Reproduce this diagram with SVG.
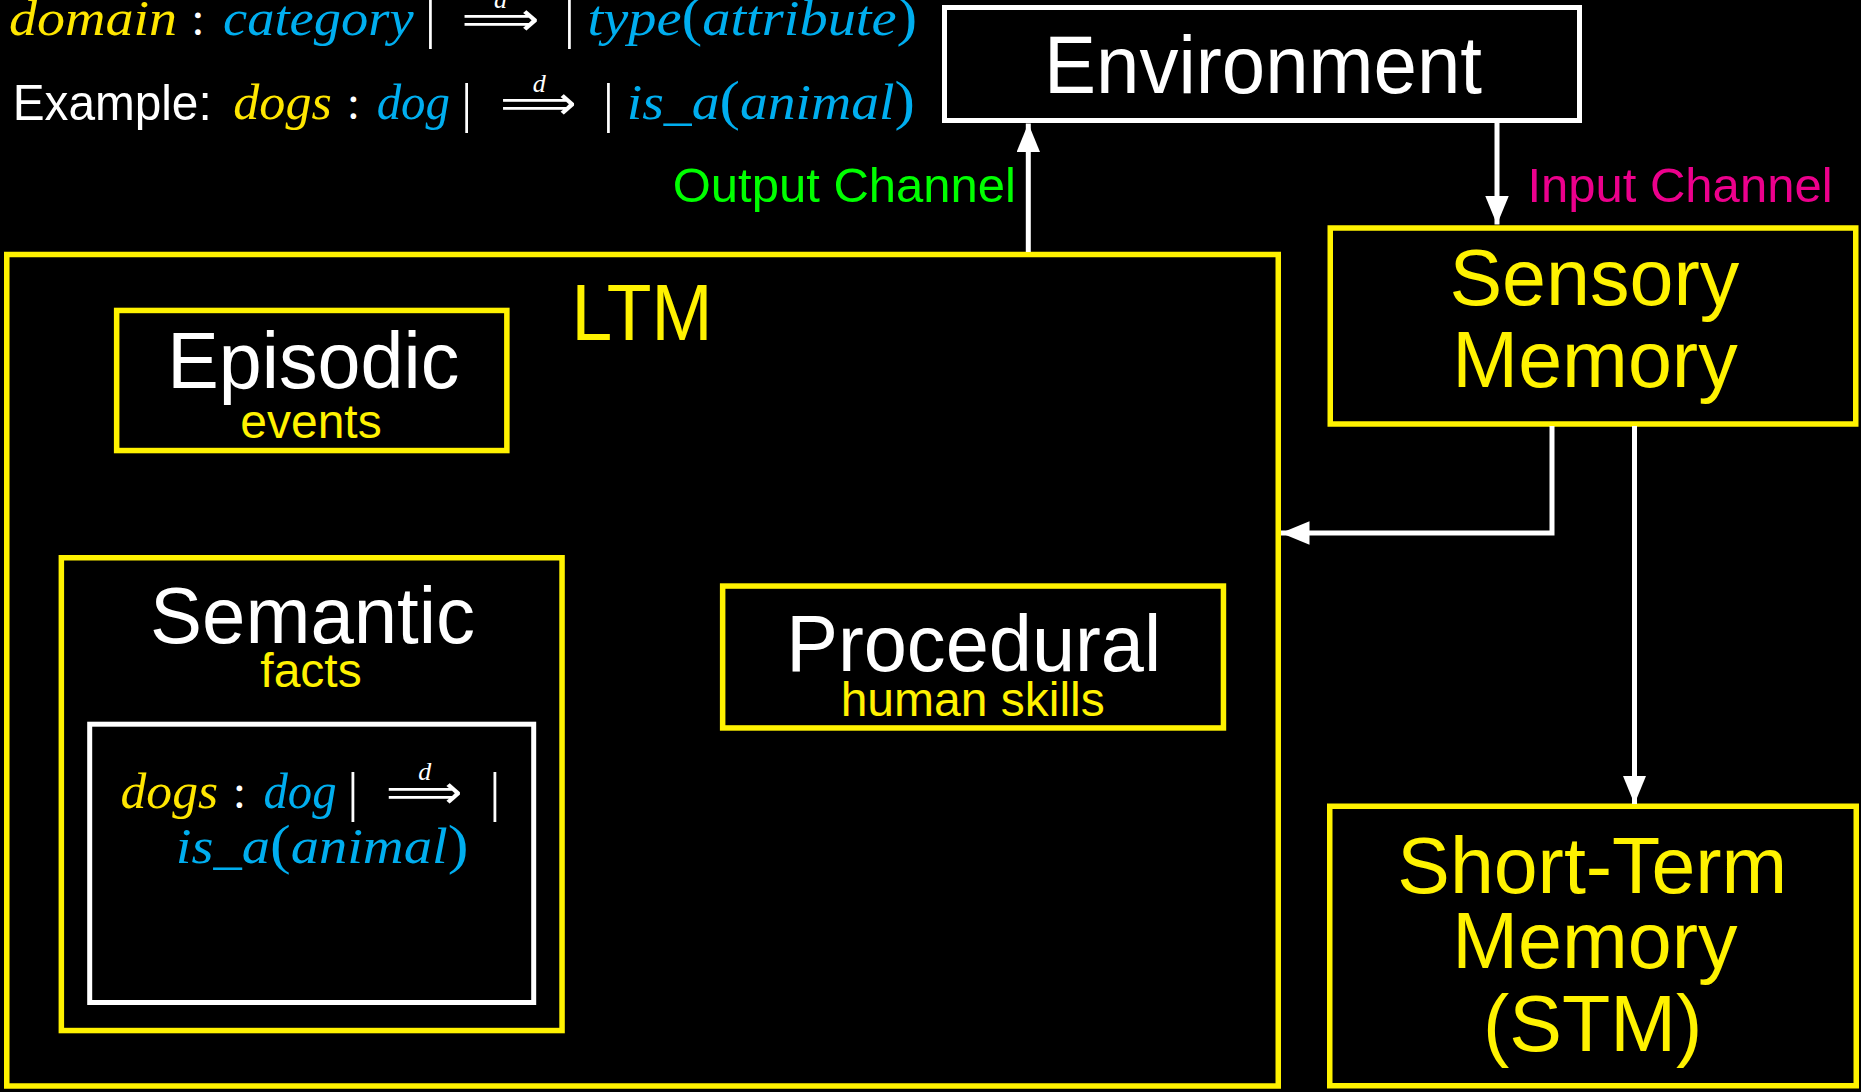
<svg xmlns="http://www.w3.org/2000/svg" width="1861" height="1092" viewBox="0 0 1861 1092">
<defs>
<style>
.by{fill:#000;stroke:#FFF200;stroke-width:5.5}
.bw{fill:#000;stroke:#fff;stroke-width:5}
.lbl{font-family:"Liberation Sans",Arial,sans-serif}
.big{font-size:79px;text-anchor:middle}
.sub{font-size:48px;text-anchor:middle;fill:#FFF200}
.m{font-family:"Liberation Serif","Times New Roman",serif;font-style:italic;font-size:50px}
.up{font-family:"Liberation Serif","Times New Roman",serif;font-style:normal;font-size:55px}
.bar{font-family:"Liberation Serif",serif;font-size:54px;fill:#fff;text-anchor:middle}
.col{font-family:"Liberation Serif",serif;font-size:48px;fill:#fff;text-anchor:middle}
.arr{font-family:"DejaVu Sans",sans-serif;font-size:47px;fill:#fff}
.sd{font-family:"Liberation Serif",serif;font-style:italic;font-size:26px;fill:#fff;text-anchor:middle}
.yel{fill:#FFE600}
.cy{fill:#00AEEF}
.conn{stroke:#fff;stroke-width:5;fill:none;stroke-linejoin:miter}
</style>
<marker id="ah" viewBox="0 0 28.5 23.5" refX="28.5" refY="11.75" markerWidth="28.5" markerHeight="23.5" markerUnits="userSpaceOnUse" orient="auto">
<path d="M0,0 L28.5,11.75 L0,23.5 Z" fill="#fff"/>
</marker>
</defs>
<rect x="0" y="0" width="1861" height="1092" fill="#000"/>

<g id="legend">
<text class="m yel" x="9" y="35" textLength="168" lengthAdjust="spacingAndGlyphs">domain</text>
<text class="col" x="198" y="35">:</text>
<text class="m cy" x="223" y="35" textLength="190.7" lengthAdjust="spacingAndGlyphs">category</text>
<text class="bar" x="430.4" y="37">|</text>
<text class="arr" x="461.6" y="35" textLength="78" lengthAdjust="spacingAndGlyphs">⟹</text>
<text class="sd" x="500.6" y="7.7">d</text>
<text class="bar" x="569.5" y="37">|</text>
<text class="m cy" x="587.5" y="35" textLength="329.8" lengthAdjust="spacingAndGlyphs">type<tspan class="up">(</tspan>attribute<tspan class="up">)</tspan></text>

<text class="lbl" x="12.7" y="120" font-size="50" fill="#fff" textLength="199" lengthAdjust="spacingAndGlyphs">Example:</text>
<text class="m yel" x="233.3" y="119" textLength="98.4" lengthAdjust="spacingAndGlyphs">dogs</text>
<text class="col" x="353.3" y="119">:</text>
<text class="m cy" x="376.7" y="119" textLength="73.3" lengthAdjust="spacingAndGlyphs">dog</text>
<text class="bar" x="466.7" y="121">|</text>
<text class="arr" x="500" y="119" textLength="76.7" lengthAdjust="spacingAndGlyphs">⟹</text>
<text class="sd" x="539.2" y="91.7">d</text>
<text class="bar" x="608.3" y="121">|</text>
<text class="m cy" x="626.7" y="119" textLength="288.3" lengthAdjust="spacingAndGlyphs">is_a<tspan class="up">(</tspan>animal<tspan class="up">)</tspan></text>
</g>

<g id="environment">
<rect class="bw" x="944.5" y="7.5" width="635" height="113"/>
<text class="lbl" x="1263" y="92.7" font-size="82" fill="#fff" text-anchor="middle" textLength="438" lengthAdjust="spacingAndGlyphs">Environment</text>
</g>

<g id="ltm">
<rect class="by" x="6.75" y="254.5" width="1271.5" height="831.5"/>
<text class="lbl big" x="642" y="340" fill="#FFF200" textLength="141" lengthAdjust="spacingAndGlyphs">LTM</text>
</g>

<g id="episodic">
<rect class="by" x="116.65" y="310.45" width="390.2" height="140.1"/>
<text class="lbl big" x="313.3" y="388.3" fill="#fff" textLength="292" lengthAdjust="spacingAndGlyphs">Episodic</text>
<text class="lbl sub" x="311" y="438">events</text>
</g>

<g id="semantic">
<rect class="by" x="61.35" y="557.75" width="500.7" height="472.8"/>
<text class="lbl big" x="312.6" y="643.3" fill="#fff" textLength="325" lengthAdjust="spacingAndGlyphs">Semantic</text>
<text class="lbl sub" x="311" y="686.7">facts</text>
<g id="semantic-example">
<rect class="bw" x="89.7" y="724.2" width="444" height="278.3"/>
<text class="m yel" x="120.6" y="808" textLength="97.4" lengthAdjust="spacingAndGlyphs">dogs</text>
<text class="col" x="239.4" y="808">:</text>
<text class="m cy" x="263.5" y="808" textLength="73" lengthAdjust="spacingAndGlyphs">dog</text>
<text class="bar" x="353" y="810">|</text>
<text class="arr" x="385.7" y="808" textLength="76.8" lengthAdjust="spacingAndGlyphs">⟹</text>
<text class="sd" x="424.8" y="780">d</text>
<text class="bar" x="495" y="810">|</text>
<text class="m cy" x="175.7" y="863" textLength="292.7" lengthAdjust="spacingAndGlyphs">is_a<tspan class="up">(</tspan>animal<tspan class="up">)</tspan></text>
</g>
</g>

<g id="procedural">
<rect class="by" x="722.65" y="586.05" width="500.8" height="141.9"/>
<text class="lbl big" x="973.7" y="670.7" fill="#fff" textLength="375" lengthAdjust="spacingAndGlyphs">Procedural</text>
<text class="lbl sub" x="972.7" y="715.5">human skills</text>
</g>

<g id="sensory">
<rect class="by" x="1330.25" y="228" width="525.5" height="196"/>
<text class="lbl big" x="1594.3" y="305" fill="#FFF200">Sensory</text>
<text class="lbl big" x="1595" y="386.7" fill="#FFF200">Memory</text>
</g>

<g id="stm">
<rect class="by" x="1329.75" y="806.25" width="526.5" height="279.5"/>
<text class="lbl big" x="1592.3" y="892.7" fill="#FFF200" textLength="390" lengthAdjust="spacingAndGlyphs">Short-Term</text>
<text class="lbl big" x="1594.8" y="968" fill="#FFF200">Memory</text>
<text class="lbl big" x="1592.6" y="1050.7" fill="#FFF200">(STM)</text>
</g>

<g id="connectors">
<path class="conn" d="M1028.3,252 L1028.3,123.5" marker-end="url(#ah)"/>
<text class="lbl" x="1016" y="201.7" font-size="49" fill="#00FF00" text-anchor="end">Output Channel</text>
<path class="conn" d="M1497,122 L1497,224.5" marker-end="url(#ah)"/>
<text class="lbl" x="1527.4" y="201.7" font-size="49" fill="#EC008C">Input Channel</text>
<path class="conn" d="M1552,426 L1552,533 L1281,533" marker-end="url(#ah)"/>
<path class="conn" d="M1634.5,426 L1634.5,804" marker-end="url(#ah)"/>
</g>
</svg>
